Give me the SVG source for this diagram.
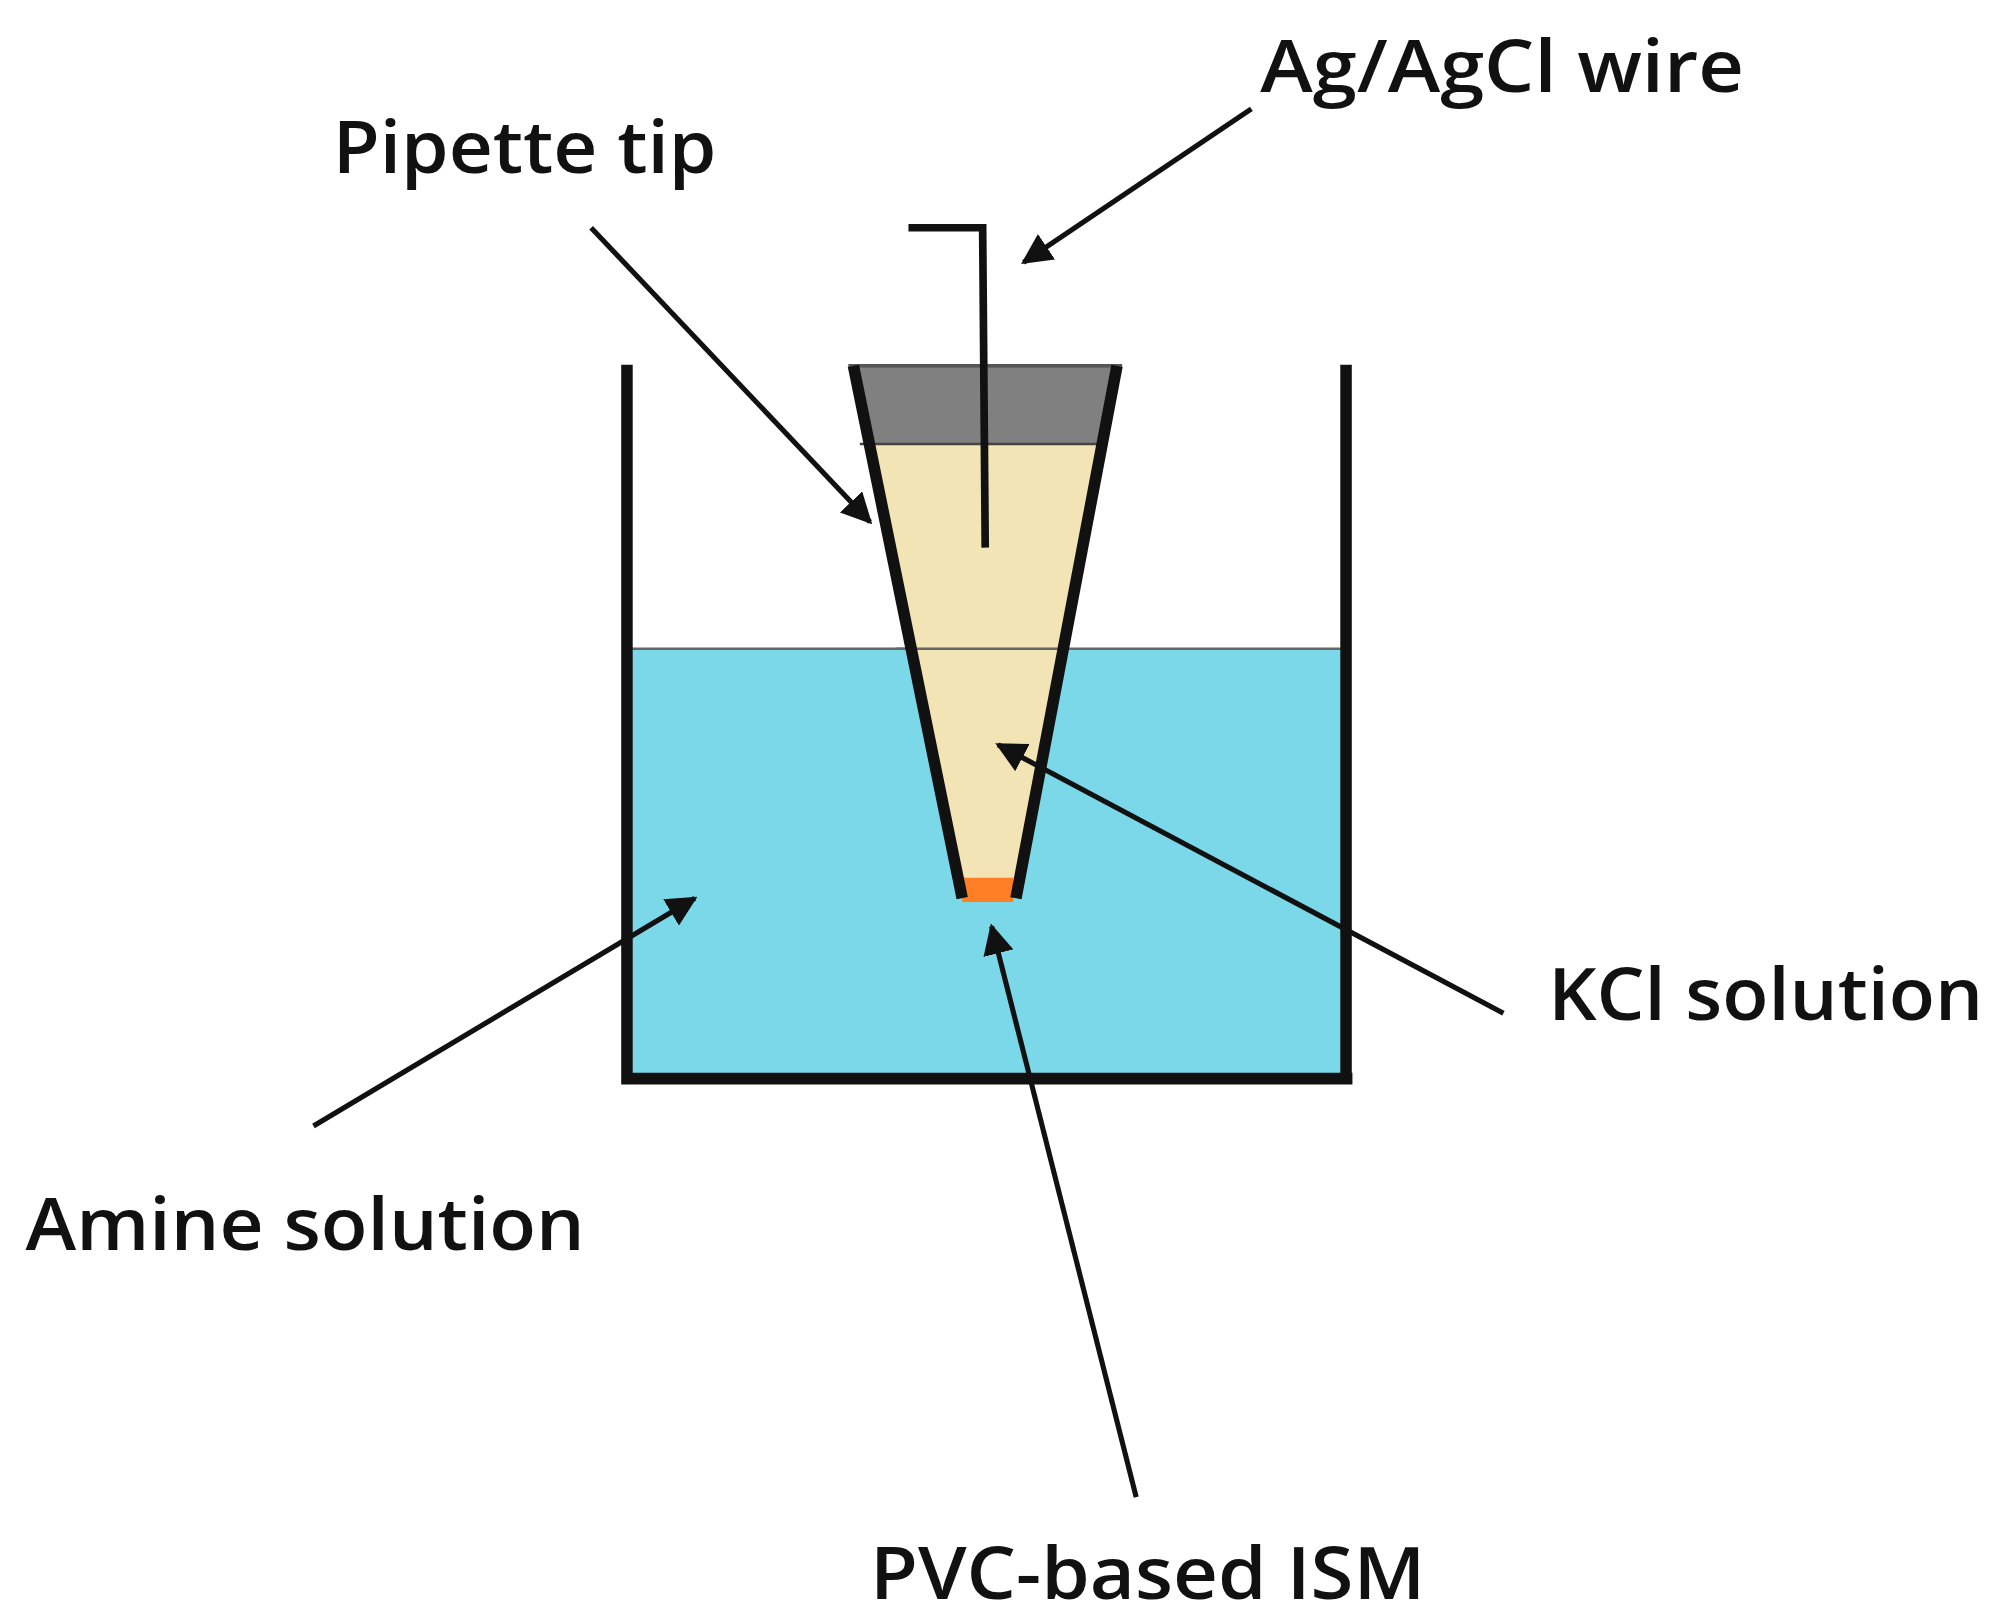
<svg xmlns="http://www.w3.org/2000/svg" width="1996" height="1621" viewBox="0 0 1996 1621">
<style>
.lbl{font-family:"Open Sans","Liberation Sans",sans-serif;font-weight:600;font-size:56px;fill:#111}
.arr{stroke:#111;stroke-width:4;fill:none;marker-end:url(#ah)}
.wall{stroke:#111;stroke-width:9;fill:none}
</style>
<defs><marker id="ah" viewBox="0 0 10 10" refX="9" refY="5" markerWidth="6" markerHeight="6" orient="auto" markerUnits="strokeWidth"><path d="M0,0L10,5L0,10z" fill="#111"/></marker></defs>
<rect width="1996" height="1621" fill="#fff"/>
<g transform="scale(1.2795)">
<g id="beaker">
<rect x="494" y="507" width="556" height="334" fill="#7ad8e8"/>
<line x1="494" y1="507" x2="1050" y2="507" stroke="#666" stroke-width="2"/>
<path class="wall" d="M490,285V843H1057M1052,285V843"/>
</g>
<g id="pipette">
<polygon points="665,287 875,287 857,347 683,347" fill="#808080"/>
<polygon points="683,347 857,347 796,700 750,700" fill="#f2e4b4"/>
<line x1="672" y1="347" x2="860" y2="347" stroke="#444" stroke-width="2"/>
<line x1="700" y1="507" x2="830" y2="507" stroke="#666" stroke-width="2"/>
<rect x="752" y="686" width="40" height="19" fill="#ff7f27"/>
<line x1="663" y1="286" x2="877" y2="286" stroke="#555" stroke-width="3"/>
<path class="wall" d="M667,286L752,702M873,286L794,702"/>
</g>
<g id="wire"><path d="M710,178H768L770,428" stroke="#111" stroke-width="6" fill="none"/></g>
<g id="connectors">
<line class="arr" x1="978" y1="85" x2="800" y2="205"/>
<line class="arr" x1="462" y1="178" x2="680" y2="408"/>
<line class="arr" x1="1175" y1="792" x2="780" y2="582"/>
<line class="arr" x1="245" y1="880" x2="543" y2="702"/>
<line class="arr" x1="888" y1="1170" x2="775" y2="724"/>
</g>
<g id="labels">
<text class="lbl" x="985" y="72" textLength="378" lengthAdjust="spacingAndGlyphs">Ag/AgCl wire</text>
<text class="lbl" x="260" y="135" textLength="300" lengthAdjust="spacingAndGlyphs">Pipette tip</text>
<text class="lbl" x="1210" y="797" textLength="340" lengthAdjust="spacingAndGlyphs">KCl solution</text>
<text class="lbl" x="20" y="977" textLength="437" lengthAdjust="spacingAndGlyphs">Amine solution</text>
<text class="lbl" x="680" y="1250" textLength="434" lengthAdjust="spacingAndGlyphs">PVC-based ISM</text>
</g>
</g>
</svg>
